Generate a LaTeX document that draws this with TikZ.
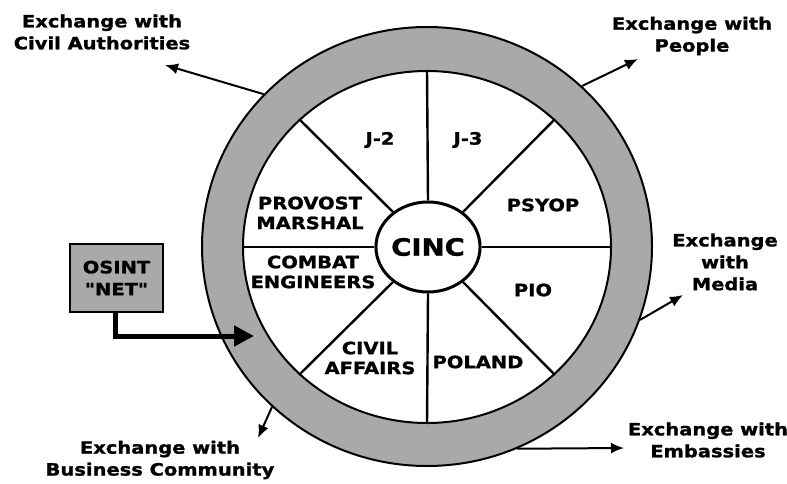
\documentclass[tikz,border=0pt]{standalone}
\usepackage{fontspec}
\newfontfamily\hv{DejaVu Sans}[FakeStretch=1.15, BoldFeatures={FakeBold=1.3}]
\usetikzlibrary{arrows.meta,shapes.geometric}
\definecolor{ringgray}{HTML}{A9A9A9}
\begin{document}
\begin{tikzpicture}[x=1bp,y=-1bp,
  lbl/.style={font=\hv\bfseries\fontsize{17}{22}\selectfont, align=center, inner sep=0pt},
  inlbl/.style={font=\hv\bfseries\fontsize{17}{20}\selectfont, align=center, inner sep=0pt},
  conn/.style={line width=2bp, -{Latex[length=13bp,width=11bp]}},
  spoke/.style={line width=2.4bp},
  ring/.style={ellipse, draw, line width=2bp, inner sep=0pt}]
\useasboundingbox (0,0) rectangle (787,484);
% ring
\node[ring, fill=ringgray, minimum width=450bp, minimum height=439bp] (outer) at (427,246.5) {};
\node[ring, fill=white, minimum width=368bp, minimum height=352bp] (inner) at (427,247) {};
% centre
\node[ellipse, draw, line width=3bp, fill=white, minimum width=100bp, minimum height=90bp, inner sep=0pt,
      font=\hv\bfseries\fontsize{24}{24}\selectfont] (cinc) at (428,247) {CINC};
\foreach \a in {0,45,...,315} \draw[spoke] (cinc.\a) -- (inner.\a);
% sector labels
\node[inlbl] (j2) at (380,140) {J-2};
\node[inlbl] (j3) at (468,140) {J-3};
\node[inlbl] (psyop) at (543,205) {PSYOP};
\node[inlbl] (pio) at (533,290) {PIO};
\node[inlbl] (poland) at (478,362) {POLAND};
\node[inlbl] (civaff) at (370,358) {CIVIL\\AFFAIRS};
\node[inlbl] (combat) at (313,272) {COMBAT\\ENGINEERS};
\node[inlbl] (provost) at (310,213) {PROVOST\\MARSHAL};
% OSINT
\node[draw, line width=1.5bp, fill=ringgray, minimum width=93bp, minimum height=68bp, inner sep=0pt,
      font=\hv\bfseries\fontsize{17}{22}\selectfont, align=center] (osint) at (116.5,278) {OSINT\\"NET"};
\coordinate (osintTip) at (254,336);
\draw[line width=5bp, -{Triangle[length=20bp,width=20bp]}] ([xshift=-1.5bp]osint.south) |- (osintTip);
% exchanges
\node[lbl] (civ) at (102,32) {Exchange with\\Civil Authorities};
\coordinate (civT) at (165,65);
\draw[conn] (outer.137) -- (civT);
\node[lbl] (peo) at (692,36) {Exchange with\\People};
\coordinate (peoT) at (638,59);
\draw[conn] (outer.46) -- (peoT);
\node[lbl] (med) at (725,262) {Exchange\\with\\Media};
\coordinate (medT) at (683,295);
\draw[conn] (outer.-19.3) -- (medT);
\node[lbl] (emb) at (708,440) {Exchange with\\Embassies};
\coordinate (embT) at (624,448);
\draw[conn] (outer.-66) -- (embT);
\node[lbl] (bus) at (160,460) {Exchange with\\Business Community};
\coordinate (busT) at (258,438);
\draw[conn] (outer.-134) -- (busT);
\end{tikzpicture}
\end{document}
